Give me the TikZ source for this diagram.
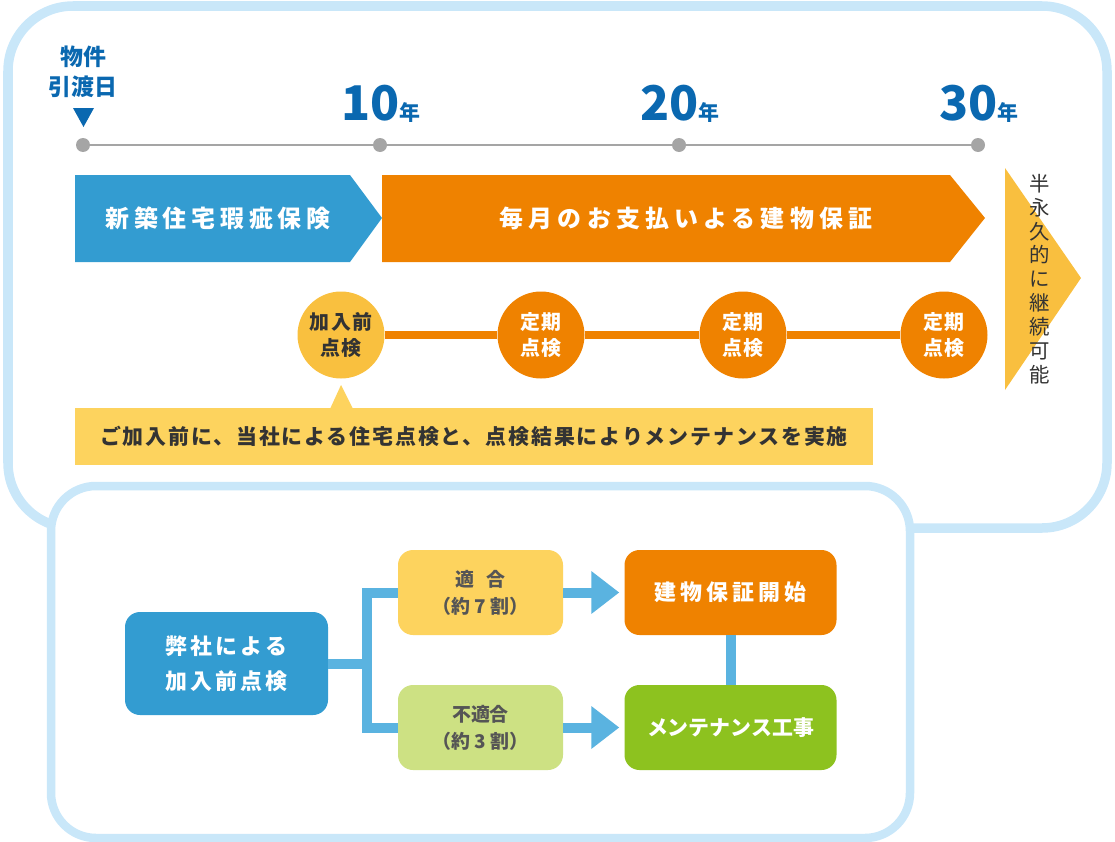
\documentclass[tikz,border=0pt]{standalone}
\usepackage{fontspec}
\setmainfont{Noto Sans CJK JP}
\usetikzlibrary{arrows.meta,positioning}
\definecolor{framebl}{HTML}{C9E7F9}
\definecolor{insblue}{HTML}{339CD1}
\definecolor{wrorange}{HTML}{EF8200}
\definecolor{permyel}{HTML}{F9BF3F}
\definecolor{circyel}{HTML}{F9C03F}
\definecolor{noteyel}{HTML}{FDD35E}
\definecolor{okgreen}{HTML}{CDE183}
\definecolor{mtgreen}{HTML}{8DC21F}
\definecolor{connbl}{HTML}{5AB3E0}
\definecolor{tlgray}{HTML}{A5A5A5}
\definecolor{yrblue}{HTML}{0A68B0}
\definecolor{txtdark}{HTML}{333333}
\definecolor{txtgray}{HTML}{555555}
\newcommand{\fs}[2]{\fontsize{#1}{#2}\selectfont}
\newcommand{\ls}[1]{\addfontfeatures{LetterSpace=#1}}
\begin{document}
\begin{tikzpicture}[x=1bp,y=-1bp,
  frame/.style={draw=framebl,line width=9.5bp,rounded corners=#1},
  dot/.style={circle,fill=tlgray,minimum size=14bp,inner sep=0pt},
  yr/.style={text=yrblue,font=\bfseries\fs{48}{48},inner sep=0pt},
  band/.style={text=white,inner sep=0pt},
  circ/.style={circle,minimum size=87bp,inner sep=0pt,align=center,
    font=\bfseries\fs{20}{27}\ls{6}},
  box/.style={rounded corners=15bp,minimum width=#1,inner sep=0pt,align=center},
  conn/.style={draw=connbl,line width=10bp}]
\useasboundingbox (0,0) rectangle (1115,842);
% frames
\draw[frame=65bp] (8,6) rectangle (1107,528);
\draw[frame=45bp,line width=8.5bp,fill=white] (51,486) rectangle (910,838);

% timeline
\node[dot] (t0) at (83,145) {};
\node[dot] (t1) at (380,145) {};
\node[dot] (t2) at (679,145) {};
\node[dot] (t3) at (978,145) {};
\draw[tlgray,line width=2.5bp] (t0) -- (t3);
\node[text=yrblue,font=\bfseries\fs{23}{30},align=center,inner sep=0pt] (hand) at (83,72) {物件\\引渡日};
\fill[yrblue] (73,108) -- (94,108) -- (83.5,127) -- cycle;
\node[yr,anchor=base] (y10) at (381,120) {10{\fs{21}{21}年}};
\node[yr,anchor=base] (y20) at (680,120) {20{\fs{21}{21}年}};
\node[yr,anchor=base] (y30) at (979,120) {30{\fs{21}{21}年}};

% bands
\fill[insblue] (75,175) -- (350,175) -- (382,218) -- (350,262) -- (75,262) -- cycle;
\fill[wrorange] (382,175) -- (950,175) -- (985,218) -- (950,262) -- (382,262) -- cycle;
\fill[permyel] (1005,168) -- (1081,278) -- (1005,390) -- cycle;
\node[band,font=\bfseries\fs{24}{24}\ls{20}] (ins) at (218,218) {新築住宅瑕疵保険};
\node[band,font=\bfseries\fs{24}{24}\ls{22}] (wr) at (686,218) {毎月のお支払いよる建物保証};
\node[text=txtdark,font=\fs{20.5}{23.9},align=center,inner sep=0pt] (perm) at (1040,279)
  {半\\永\\久\\的\\に\\継\\続\\可\\能};

% inspections
\node[circ,fill=circyel,text=txtdark] (pre) at (341,335) {加入前\\点検};
\node[circ,fill=wrorange,text=white] (p1) at (541,335) {定期\\点検};
\node[circ,fill=wrorange,text=white] (p2) at (743,335) {定期\\点検};
\node[circ,fill=wrorange,text=white] (p3) at (944,335) {定期\\点検};
\draw[wrorange,line width=8bp] (pre.east) -- (p1.west) (p1.east) -- (p2.west) (p2.east) -- (p3.west);
\node[fill=noteyel,minimum width=798bp,minimum height=57bp,inner sep=0pt,
  text=txtdark,font=\bfseries\fs{21}{21}\ls{9}] (note) at (474,436.5)
  {ご加入前に、当社による住宅点検と、点検結果によりメンテナンスを実施};
\fill[noteyel] (330,409) -- (341,385) -- (353,409) -- cycle;

% flow
\node[box=203bp,fill=insblue,text=white,minimum height=103bp,
  font=\bfseries\fs{22}{35}\ls{14}] (chk) at (226.5,663.5) {弊社による\\加入前点検};
\node[box=165bp,fill=noteyel,text=txtgray,minimum height=85bp,
  font=\bfseries\fs{19}{27}] (ok) at (480.5,592.5) {適\hspace{0.6em}合\\（約 7 割）};
\node[box=165bp,fill=okgreen,text=txtgray,minimum height=85bp,
  font=\bfseries\fs{19}{27}] (ng) at (480.5,727.5) {不適合\\（約 3 割）};
\node[box=212bp,fill=wrorange,text=white,minimum height=85bp,
  font=\bfseries\fs{22}{22}\ls{18}] (start) at (730.5,592.5) {建物保証開始};
\node[box=212bp,fill=mtgreen,text=white,minimum height=85bp,
  font=\bfseries\fs{21}{21}] (mnt) at (730.5,727.5) {メンテナンス工事};
\draw[conn] (chk.east) -- ++(39,0) |- (ok.west);
\draw[conn] (chk.east) -- ++(39,0) |- (ng.west);
\draw[conn,-{Triangle[length=28bp,width=41bp]},shorten >=5bp] (ok) -- (start);
\draw[conn,-{Triangle[length=28bp,width=41bp]},shorten >=5bp] (ng) -- (mnt);
\draw[conn] (start) -- (mnt);
\end{tikzpicture}
\end{document}
